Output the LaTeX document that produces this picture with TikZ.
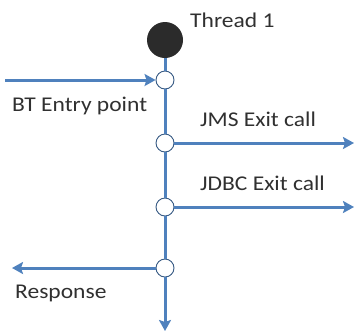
\documentclass[tikz,border=0pt]{standalone}
\usepackage{fontspec}
\setmainfont{Carlito}
\usetikzlibrary{arrows.meta}
\definecolor{flow}{HTML}{4F81BD}
\definecolor{txt}{HTML}{303030}
\definecolor{dot}{HTML}{2B2B2B}
\begin{document}
\begin{tikzpicture}[x=1pt,y=-1pt,
  flowline/.style={draw=flow,line width=3pt},
  arrowline/.style={flowline,-{Stealth[length=11pt,width=12pt,inset=2pt]}},
  port/.style={circle,draw=flow!70!black,line width=0.9pt,fill=white,minimum size=18pt,inner sep=0pt},
  lbl/.style={anchor=base west,inner sep=0pt,text=txt,font=\fontsize{21}{25}\selectfont}]
\useasboundingbox (0,0) rectangle (355,333);
\node[circle,fill=dot,minimum size=36pt,inner sep=0pt] (start) at (165,40) {};
\node[port] (entry) at (165,80) {};
\node[port] (jms) at (165,143) {};
\node[port] (jdbc) at (165,207) {};
\node[port] (resp) at (165,268) {};
\coordinate (inpt) at (5,80);
\coordinate (jmsend) at (354,143);
\coordinate (jdbcend) at (354,207);
\coordinate (respend) at (12,268);
\coordinate (downend) at (165,331);
\draw[flowline] (start) -- (entry);
\draw[flowline] (entry) -- (jms);
\draw[flowline] (jms) -- (jdbc);
\draw[flowline] (jdbc) -- (resp);
\draw[arrowline] (resp) -- (downend);
\draw[arrowline] (inpt) -- (entry);
\draw[arrowline] (jms) -- (jmsend);
\draw[arrowline] (jdbc) -- (jdbcend);
\draw[arrowline] (resp) -- (respend);
\node[lbl] (t1) at (190,27) {\scalebox{1.12}[1]{Thread 1}};
\node[lbl] (bt) at (12,111) {\scalebox{1.12}[1]{BT Entry point}};
\node[lbl] (jmsl) at (200,126) {\scalebox{1.12}[1]{JMS Exit call}};
\node[lbl] (jdbcl) at (200,190) {\scalebox{1.12}[1]{JDBC Exit call}};
\node[lbl] (rl) at (15,298) {\scalebox{1.12}[1]{Response}};
\end{tikzpicture}
\end{document}
